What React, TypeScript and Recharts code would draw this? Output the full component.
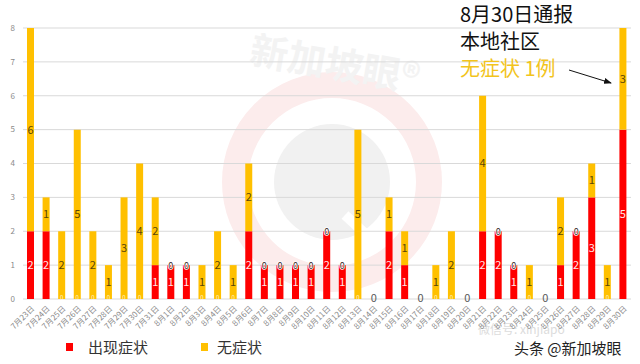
import React from 'react';
import { BarChart, Bar, XAxis, YAxis, CartesianGrid, Legend, LabelList } from 'recharts';

const dates = [
  '7月23日', '7月24日', '7月25日', '7月26日', '7月27日', '7月28日', '7月29日', '7月30日', '7月31日',
  '8月1日', '8月2日', '8月3日', '8月4日', '8月5日', '8月6日', '8月7日', '8月8日', '8月9日', '8月10日',
  '8月11日', '8月12日', '8月13日', '8月14日', '8月15日', '8月16日', '8月17日', '8月18日', '8月19日', '8月20日',
  '8月21日', '8月22日', '8月23日', '8月24日', '8月25日', '8月26日', '8月27日', '8月28日', '8月29日', '8月30日',
];
const symptomatic = [2, 2, 0, 0, 0, 0, 0, 0, 1, 1, 1, 0, 0, 0, 2, 1, 1, 1, 1, 2, 1, 0, 0, 2, 1, 0, 0, 0, 0, 2, 2, 1, 0, 0, 1, 2, 3, 0, 5];
const asymptomatic = [6, 1, 2, 5, 2, 1, 3, 4, 2, 0, 0, 1, 2, 1, 2, 0, 0, 0, 0, 0, 0, 5, 0, 1, 1, 0, 1, 2, 0, 4, 0, 0, 1, 0, 2, 0, 1, 1, 3];
const seriesNames = ['出现症状', '无症状'];
const seriesColors = ['#ff0000', '#ffc000'];
const yTicks = [0, 1, 2, 3, 4, 5, 6, 7, 8];
const noteLines = ['8月30日通报', '本地社区', '无症状 1例'];

// label keys carry "this|other" values so each label knows its partner segment
const data = dates.map((d, i) => ({
  date: d,
  sym: symptomatic[i],
  asym: asymptomatic[i],
  symKey: `${symptomatic[i]}|${asymptomatic[i]}`,
  asymKey: `${asymptomatic[i]}|${symptomatic[i]}`,
}));

const FONT = '"Noto Sans CJK SC", "Noto Sans", sans-serif';

const parse = (value: any) => {
  const s = String(value ?? '0|0').split('|');
  return [Number(s[0]), Number(s[1])];
};

const redLabel = (props: any) => {
  const { x, y, width, height, value } = props;
  const [v, other] = parse(value);
  if (v === 0) return null;
  const cx = x + width / 2;
  const cy = y + height / 2;
  const top = Math.min(y, y + height);
  return (
    <g>
      <text x={cx} y={cy + 1} textAnchor="middle" dominantBaseline="middle" fontSize={11} fill="#ffe8e8" fontFamily={FONT}>{v}</text>
      {other === 0 && (
        <text x={cx} y={top + 1} textAnchor="middle" dominantBaseline="middle" fontSize={9} fill="#3a2a2a" stroke="#ffffff" strokeWidth={1.5} paintOrder="stroke" fontFamily={FONT}>0</text>
      )}
    </g>
  );
};

const yellowLabel = (props: any) => {
  const { x, y, width, height, value } = props;
  const [v, other] = parse(value);
  if (v === 0) return null;
  const cx = x + width / 2;
  const cy = y + height / 2;
  const bottom = Math.max(y, y + height);
  return (
    <g>
      <text x={cx} y={cy + 1} textAnchor="middle" dominantBaseline="middle" fontSize={11} fill="#5a4608" fontFamily={FONT}>{v}</text>
      {other === 0 && (
        <text x={cx} y={bottom - 1} textAnchor="middle" dominantBaseline="middle" fontSize={6} fill="#fff6d8" fontFamily={FONT}>0</text>
      )}
    </g>
  );
};

const XTick = (props: any) => {
  const { x, y, payload, index } = props;
  const i = typeof index === 'number' ? index : dates.indexOf(payload.value);
  const bothZero = symptomatic[i] === 0 && asymptomatic[i] === 0;
  return (
    <g>
      {bothZero && (
        <text x={x} y={y - 8} textAnchor="middle" dominantBaseline="middle" fontSize={11} fill="#595959" fontFamily={FONT}>0</text>
      )}
      <g transform={`translate(${x + 2},${y})`}>
        <text x={0} y={0} dy={3} textAnchor="end" transform="rotate(-45)" fontSize={8} fill="#8a8a8a" fontFamily={FONT}>
          {payload.value}
        </text>
      </g>
    </g>
  );
};

const LegendContent = () => (
  <div style={{ position: 'relative', width: 640, height: 24, fontFamily: FONT }}>
    <div style={{ position: 'absolute', left: 66, top: 8, width: 7, height: 8, background: seriesColors[0] }} />
    <div style={{ position: 'absolute', left: 88, top: 1, fontSize: 15, lineHeight: '22px', color: '#333' }}>{seriesNames[0]}</div>
    <div style={{ position: 'absolute', left: 201, top: 8, width: 7, height: 8, background: seriesColors[1] }} />
    <div style={{ position: 'absolute', left: 217, top: 1, fontSize: 15, lineHeight: '22px', color: '#333' }}>{seriesNames[1]}</div>
  </div>
);

export default function App() {
  return (
    <div style={{ position: 'absolute', left: 0, top: 0, width: 640, height: 364, background: '#fff', overflow: 'hidden', fontFamily: FONT }}>
      {/* watermark */}
      <svg width={640} height={364} style={{ position: 'absolute', left: 0, top: 0 }}>
        <circle cx={332} cy={182} r={97} fill="none" stroke="#fcecec" strokeWidth={26} />
        <circle cx={332} cy={182} r={58} fill="#f1f1f1" />
        <line x1={345} y1={215} x2={372} y2={240} stroke="#ffffff" strokeWidth={10} />
        <text x={335} y={78} textAnchor="middle" fontSize={38} fontWeight="bold" fill="#f3f3f3" transform="rotate(10 335 65)" fontFamily={FONT}>新加坡眼®</text>
        <text x={478} y={334} fontSize={12} fill="#dcdcdc" fontFamily={FONT}>微信号: xinjiapo</text>
      </svg>
      <div style={{ position: 'absolute', left: 0, top: 0 }}>
        <BarChart width={640} height={364} data={data} margin={{ top: 28, right: 9, left: 0, bottom: 5 }} barSize={7}>
          <CartesianGrid vertical={false} stroke="#d9d9d9" />
          <XAxis dataKey="date" interval={0} axisLine={false} tickLine={false} height={36} tick={<XTick />} />
          <YAxis width={23} domain={[0, 8]} ticks={yTicks} axisLine={false} tickLine={false} tick={{ fontSize: 8, fill: '#8a8a8a', fontFamily: FONT }} />
          <Legend verticalAlign="bottom" height={24} wrapperStyle={{ left: 0, width: 640 }} content={<LegendContent />} />
          <Bar dataKey="sym" name={seriesNames[0]} stackId="a" fill={seriesColors[0]} isAnimationActive={false}>
            <LabelList dataKey="symKey" content={redLabel} />
          </Bar>
          <Bar dataKey="asym" name={seriesNames[1]} stackId="a" fill={seriesColors[1]} isAnimationActive={false}>
            <LabelList dataKey="asymKey" content={yellowLabel} />
          </Bar>
        </BarChart>
      </div>
      {/* annotation */}
      <div style={{ position: 'absolute', left: 460, top: 0, fontSize: 20, lineHeight: '27px', color: '#111', whiteSpace: 'nowrap' }}>
        <div>{noteLines[0]}</div>
        <div>{noteLines[1]}</div>
        <div style={{ color: '#f2c41c' }}>{noteLines[2]}</div>
      </div>
      <svg width={640} height={364} style={{ position: 'absolute', left: 0, top: 0, pointerEvents: 'none' }}>
        <defs>
          <marker id="ah" markerWidth="8" markerHeight="6" refX="7" refY="3" orient="auto">
            <path d="M0,0 L8,3 L0,6 Z" fill="#111" />
          </marker>
        </defs>
        <line x1={569} y1={70} x2={611} y2={83} stroke="#111" strokeWidth={1} markerEnd="url(#ah)" />
        <text x={514} y={354} fontSize={15} fill="#222" stroke="#fff" strokeWidth={2} paintOrder="stroke" fontFamily={FONT}>头条 @新加坡眼</text>
      </svg>
    </div>
  );
}
